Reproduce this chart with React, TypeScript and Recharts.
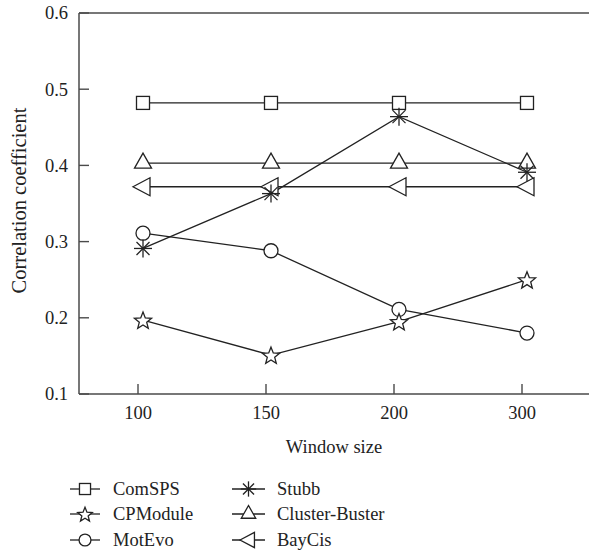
import React from 'react';
import { LineChart, Line, XAxis, YAxis, ReferenceLine, Legend, Label } from 'recharts';

const windowSizes = ['100', '150', '200', '300'];
const yTicks = [0.1, 0.2, 0.3, 0.4, 0.5, 0.6];
const comSPS = [0.482, 0.482, 0.482, 0.482];
const cpModule = [0.197, 0.151, 0.195, 0.25];
const motEvo = [0.311, 0.288, 0.211, 0.18];
const stubb = [0.291, 0.363, 0.464, 0.391];
const clusterBuster = [0.403, 0.403, 0.403, 0.403];
const bayCis = [0.372, 0.372, 0.372, 0.372];

const FONT = '"Liberation Serif", "DejaVu Serif", serif';
const INK = '#222';
const AXIS = '#4a4a4a';

type Shape = 'square' | 'star' | 'circle' | 'asterisk' | 'triUp' | 'triLeft';

const series: { key: string; name: string; values: number[]; shape: Shape }[] = [
  { key: 'comSPS', name: 'ComSPS', values: comSPS, shape: 'square' },
  { key: 'clusterBuster', name: 'Cluster-Buster', values: clusterBuster, shape: 'triUp' },
  { key: 'bayCis', name: 'BayCis', values: bayCis, shape: 'triLeft' },
  { key: 'motEvo', name: 'MotEvo', values: motEvo, shape: 'circle' },
  { key: 'cpModule', name: 'CPModule', values: cpModule, shape: 'star' },
  { key: 'stubb', name: 'Stubb', values: stubb, shape: 'asterisk' },
];

const legendCols = [
  ['ComSPS', 'CPModule', 'MotEvo'],
  ['Stubb', 'Cluster-Buster', 'BayCis'],
];

const data = windowSizes.map((w, i) => {
  const row: Record<string, any> = { window: w };
  series.forEach((s) => (row[s.key] = s.values[i]));
  return row;
});

function Marker({ shape, cx, cy, s = 1 }: { shape: Shape; cx: number; cy: number; s?: number }) {
  const common = { fill: '#fff', stroke: INK, strokeWidth: 1.3 };
  switch (shape) {
    case 'square':
      return <rect x={cx - 6.5 * s} y={cy - 6.5 * s} width={13 * s} height={13 * s} {...common} />;
    case 'circle':
      return <circle cx={cx} cy={cy} r={7 * s} {...common} />;
    case 'star': {
      const pts: string[] = [];
      for (let k = 0; k < 10; k++) {
        const a = ((-90 + k * 36) * Math.PI) / 180;
        const r = (k % 2 === 0 ? 9 : 3.9) * s;
        pts.push(`${cx + r * Math.cos(a)},${cy + 1 * s + r * Math.sin(a)}`);
      }
      return <polygon points={pts.join(' ')} {...common} />;
    }
    case 'triUp':
      return (
        <polygon
          points={`${cx},${cy - 10 * s} ${cx - 8.5 * s},${cy + 5 * s} ${cx + 8.5 * s},${cy + 5 * s}`}
          {...common}
        />
      );
    case 'triLeft':
      return (
        <polygon
          points={`${cx - 10 * s},${cy} ${cx + 7 * s},${cy - 9 * s} ${cx + 7 * s},${cy + 9 * s}`}
          {...common}
        />
      );
    case 'asterisk': {
      const d = 6.5 * s;
      const l = 9 * s;
      return (
        <g stroke={INK} strokeWidth={1.3}>
          <line x1={cx - l} y1={cy} x2={cx + l} y2={cy} />
          <line x1={cx} y1={cy - l} x2={cx} y2={cy + l} />
          <line x1={cx - d} y1={cy - d} x2={cx + d} y2={cy + d} />
          <line x1={cx - d} y1={cy + d} x2={cx + d} y2={cy - d} />
        </g>
      );
    }
  }
  return null;
}

const YTick = (props: any) => {
  const { x, y, payload } = props;
  return (
    <g>
      <line x1={x + 11} y1={y} x2={x + 21} y2={y} stroke={AXIS} strokeWidth={1.4} />
      <text x={x} y={y} dy="0.35em" textAnchor="end" fontFamily={FONT} fontSize={18.5} fill={INK}>
        {payload.value.toFixed(1)}
      </text>
    </g>
  );
};

const XTick = (props: any) => {
  const { x, y, payload } = props;
  const tx = x - 5;
  return (
    <g>
      <line x1={tx} y1={y - 12} x2={tx} y2={y - 22} stroke={AXIS} strokeWidth={1.4} />
      <text x={tx} y={y} dy="0.71em" textAnchor="middle" fontFamily={FONT} fontSize={18.5} fill={INK}>
        {payload.value}
      </text>
    </g>
  );
};

const LegendContent = () => {
  const colX = [
    { icon: 70, text: 113 },
    { icon: 232, text: 277 },
  ];
  const rowY = [19, 44, 70];
  return (
    <svg width={589} height={86}>
      {legendCols.map((col, ci) =>
        col.map((name, ri) => {
          const s = series.find((q) => q.name === name)!;
          const x0 = colX[ci].icon;
          const y0 = rowY[ri];
          const w = ci === 0 ? 30 : 33;
          return (
            <g key={name}>
              <line x1={x0} y1={y0} x2={x0 + w} y2={y0} stroke={INK} strokeWidth={1.3} />
              <Marker shape={s.shape} cx={x0 + w / 2} cy={y0} s={0.85} />
              <text x={colX[ci].text} y={y0} dy="0.35em" fontFamily={FONT} fontSize={18.5} fill={INK}>
                {name}
              </text>
            </g>
          );
        })
      )}
    </svg>
  );
};

export default function App() {
  return (
    <div style={{ position: 'absolute', left: 0, top: 0, background: '#fff' }}>
      <LineChart width={589} height={556} data={data} margin={{ top: 13, right: 0, left: 0, bottom: 92 }}>
        <XAxis
          dataKey="window"
          type="category"
          height={70}
          padding={{ left: 64, right: 62 }}
          axisLine={{ stroke: AXIS, strokeWidth: 1.5 }}
          tickLine={false}
          tickSize={0}
          tickMargin={12}
          tick={<XTick />}
          interval={0}
        >
          <Label
            value="Window size"
            position="insideBottom"
            offset={11}
            style={{ fontFamily: FONT, fontSize: 18.5, fill: INK }}
          />
        </XAxis>
        <YAxis
          type="number"
          domain={[0.1, 0.6]}
          ticks={yTicks}
          width={79}
          axisLine={{ stroke: AXIS, strokeWidth: 1.5 }}
          tickLine={false}
          tickSize={0}
          tickMargin={11}
          tick={<YTick />}
          interval={0}
        >
          <Label
            content={(p: any) => {
              const vb = p.viewBox;
              const cx = vb.x + 19;
              const cy = vb.y + vb.height / 2 - 3;
              return (
                <text
                  x={cx}
                  y={cy}
                  dy="0.35em"
                  textAnchor="middle"
                  transform={`rotate(-90 ${cx} ${cy})`}
                  fontFamily={FONT}
                  fontSize={20.5}
                  fill={INK}
                >
                  Correlation coefficient
                </text>
              );
            }}
          />
        </YAxis>
        <ReferenceLine y={0.6} stroke={AXIS} strokeWidth={1.5} />
        {series.map((s) => (
          <Line
            key={s.key}
            dataKey={s.key}
            name={s.name}
            stroke={INK}
            strokeWidth={1.3}
            isAnimationActive={false}
            dot={(p: any) => <Marker key={`${s.key}-${p.index}`} shape={s.shape} cx={p.cx} cy={p.cy} />}
            activeDot={false}
          />
        ))}
        <Legend
          layout="vertical"
          verticalAlign="middle"
          align="center"
          content={<LegendContent />}
          wrapperStyle={{ position: 'absolute', left: 0, top: 470, width: 589, height: 86 }}
        />
      </LineChart>
    </div>
  );
}
